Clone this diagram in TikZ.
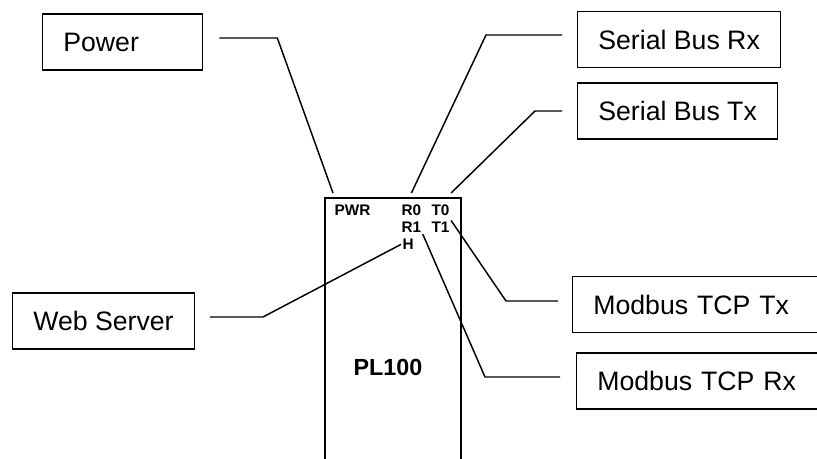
\documentclass[tikz,border=0pt]{standalone}
\usepackage{fontspec}
\setmainfont{Liberation Sans}
\usepackage{tikz}

\begin{document}
\begin{tikzpicture}[x=0.75pt, y=-0.75pt,
	lbl/.style={draw, line width=1pt, font=\fontsize{20}{24}\selectfont, minimum height=42pt, inner xsep=15.5pt, align=left, anchor=west},
	pin/.style={font=\fontsize{11.5}{13}\selectfont\bfseries, inner sep=1pt, anchor=north west},
	wire/.style={line width=1.1pt}]
			%%%%% START %%%%%
			\useasboundingbox (0, 0) rectangle (817, 458);
			\clip (0, 0) rectangle (817, 458);
			
			% the PL100 unit, open at the bottom
			\node[draw, line width=1.5pt, anchor=north west, minimum width=102pt, minimum height=210pt] (chip) at (324, 197) {};
			\node[font=\fontsize{17.5}{20}\selectfont\bfseries] (name) at (388, 367) {PL100};
			
			\node[pin] (pwr) at (333, 203.5) {PWR};
			\node[pin] (r0) at (400, 203.5) {R0};
			\node[pin] (t0) at (430, 203.5) {T0};
			\node[pin] (r1) at (400, 220.5) {R1};
			\node[pin] (t1) at (430, 220.5) {T1};
			\node[pin] (h) at (401, 237.5) {H};
			
			% labels
			\node[lbl, text width=89pt] (power) at (42, 42) {Power};
			\node[lbl] (sbrx) at (577, 39.5) {Serial Bus Rx};
			\node[lbl] (sbtx) at (577, 111) {Serial Bus Tx};
			\node[lbl] (web) at (12, 321) {Web Server};
			\node[lbl, text width=170pt] (mtx) at (572, 304.5) {Modbus TCP Tx};
			\node[lbl, text width=170pt] (mrx) at (576, 381) {Modbus TCP Rx};
			
			% wires
			\draw[wire] (power.east) ++(16, -4) -- ++(58, 0) -- ([yshift=3pt]pwr.north west |- chip.north);
			\draw[wire] (sbrx.west) ++(-15, -4.5) -- ++(-76, 0) -- ([yshift=3pt]r0.north |- chip.north);
			\draw[wire] (sbtx.west) ++(-15, 0) -- ++(-27, 0) -- ([yshift=3pt]t0.north east |- chip.north);
			\draw[wire] (web.east) ++(15, -4) -- ++(53, 0) -- (h.west);
			\draw[wire] (mtx.west) ++(-14, -3.5) -- ++(-52, 0) -- (t1.north east);
			\draw[wire] (mrx.west) ++(-16, -4) -- ++(-75, 0) -- (r1.south east);
			
			%%%%% END %%%%%
\end{tikzpicture}
\end{document}
